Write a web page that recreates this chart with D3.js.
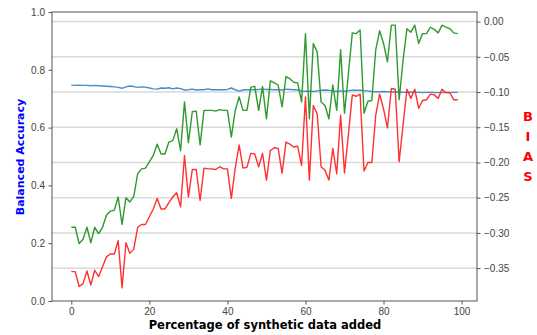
<!DOCTYPE html>
<html>
<head>
<meta charset="utf-8">
<script src="https://cdn.jsdelivr.net/npm/d3@7"></script>
<style>
  body { margin: 0; background: #fff; }
  svg { font-family: "DejaVu Sans", sans-serif; }
</style>
</head>
<body>
<svg id="chart" width="537" height="335"></svg>
<script>
// x: percentage of synthetic data added (0..99)
var pct = d3.range(0, 100);

// balanced accuracy (left axis)
var accuracy = [0.747,0.746,0.747,0.746,0.746,0.745,0.746,0.745,0.744,0.743,
  0.742,0.741,0.739,0.736,0.741,0.744,0.742,0.739,0.741,0.740,
  0.737,0.734,0.733,0.737,0.736,0.738,0.734,0.737,0.735,0.730,
  0.731,0.733,0.730,0.731,0.731,0.734,0.731,0.731,0.731,0.731,
  0.732,0.737,0.731,0.726,0.730,0.731,0.731,0.731,0.732,0.733,
  0.732,0.732,0.731,0.731,0.730,0.733,0.732,0.731,0.730,0.727,
  0.726,0.726,0.725,0.727,0.729,0.730,0.729,0.727,0.726,0.727,
  0.726,0.728,0.729,0.729,0.729,0.728,0.727,0.725,0.724,0.724,
  0.725,0.724,0.723,0.723,0.724,0.722,0.722,0.723,0.722,0.722,
  0.721,0.722,0.722,0.721,0.721,0.721,0.722,0.722,0.722,0.722];

// bias series (right axis)
var biasGreen = [-0.292,-0.292,-0.315,-0.309,-0.292,-0.314,-0.292,-0.301,-0.292,-0.275,
  -0.269,-0.268,-0.249,-0.288,-0.250,-0.256,-0.248,-0.216,-0.209,-0.208,
  -0.199,-0.190,-0.174,-0.188,-0.188,-0.171,-0.169,-0.152,-0.183,-0.114,
  -0.172,-0.128,-0.127,-0.175,-0.126,-0.126,-0.126,-0.127,-0.125,-0.126,
  -0.126,-0.164,-0.126,-0.107,-0.126,-0.126,-0.093,-0.092,-0.126,-0.092,
  -0.138,-0.084,-0.087,-0.090,-0.121,-0.078,-0.081,-0.086,-0.087,-0.114,
  -0.017,-0.138,-0.031,-0.043,-0.114,-0.119,-0.138,-0.090,-0.126,-0.040,
  -0.130,-0.074,-0.016,-0.017,-0.012,-0.130,-0.113,-0.112,-0.040,-0.013,
  -0.031,-0.057,-0.005,-0.005,-0.111,-0.055,-0.010,-0.015,-0.005,-0.031,
  -0.017,-0.017,-0.008,-0.011,-0.016,-0.005,-0.008,-0.010,-0.016,-0.017];

var biasRed = [-0.355,-0.355,-0.376,-0.372,-0.354,-0.374,-0.353,-0.362,-0.348,-0.334,
  -0.330,-0.330,-0.311,-0.378,-0.314,-0.329,-0.323,-0.292,-0.288,-0.288,
  -0.277,-0.266,-0.251,-0.266,-0.266,-0.257,-0.249,-0.243,-0.263,-0.190,
  -0.249,-0.210,-0.210,-0.254,-0.208,-0.209,-0.209,-0.210,-0.206,-0.209,
  -0.209,-0.251,-0.208,-0.175,-0.208,-0.207,-0.187,-0.188,-0.206,-0.187,
  -0.225,-0.183,-0.179,-0.180,-0.215,-0.171,-0.174,-0.178,-0.177,-0.204,
  -0.107,-0.225,-0.119,-0.131,-0.206,-0.211,-0.225,-0.180,-0.216,-0.133,
  -0.215,-0.160,-0.104,-0.106,-0.103,-0.212,-0.200,-0.200,-0.133,-0.103,
  -0.124,-0.151,-0.095,-0.096,-0.199,-0.147,-0.096,-0.109,-0.096,-0.123,
  -0.112,-0.111,-0.103,-0.104,-0.109,-0.096,-0.101,-0.101,-0.111,-0.111];

var accTicks = [0, 0.2, 0.4, 0.6, 0.8, 1.0];
var biasTicks = [0, -0.05, -0.10, -0.15, -0.20, -0.25, -0.30, -0.35];
var xTicks = [0, 20, 40, 60, 80, 100];

var svg = d3.select("#chart");
var plotL = 52, plotR = 477, plotT = 12, plotB = 301;

// matplotlib-like 5% margins
var xPad = (d3.max(pct) - d3.min(pct)) * 0.05;
var x = d3.scaleLinear()
  .domain([d3.min(pct) - xPad, d3.max(pct) + xPad])
  .range([plotL, plotR]);

var yL = d3.scaleLinear().domain([0, 1]).range([plotB, plotT]);

var allBias = biasGreen.concat(biasRed);
var bExt = d3.extent(allBias), bPad = (bExt[1] - bExt[0]) * 0.05;
var yR = d3.scaleLinear().domain([bExt[0] - bPad, bExt[1] + bPad]).range([plotB, plotT]);

// grid lines (from the bias axis)
svg.append("g").selectAll("line")
  .data(biasTicks)
  .enter().append("line")
    .attr("x1", plotL).attr("x2", plotR)
    .attr("y1", function(d) { return yR(d); })
    .attr("y2", function(d) { return yR(d); })
    .attr("stroke", "#d9d9d9")
    .attr("stroke-width", 1.5);

function drawLine(vals, scale, color) {
  var line = d3.line()
    .x(function(d, i) { return x(pct[i]); })
    .y(function(d) { return scale(d); });
  svg.append("path")
    .datum(vals)
    .attr("d", line)
    .attr("fill", "none")
    .attr("stroke", color)
    .attr("stroke-width", 1.4)
    .attr("stroke-linejoin", "round");
}

drawLine(accuracy, yL, "#4a8cc6");
drawLine(biasGreen, yR, "#2e9a2e");
drawLine(biasRed, yR, "#ff3030");

// axes
var axisColor = "#555";
function styleAxis(g) {
  g.select(".domain").remove();
  g.selectAll(".tick line").attr("stroke", axisColor).attr("stroke-width", 1);
  g.selectAll(".tick text").attr("fill", "#444").style("font-size", "10px");
}

svg.append("g")
  .attr("transform", "translate(0," + plotB + ")")
  .call(d3.axisBottom(x).tickValues(xTicks).tickSize(3.5).tickPadding(3.5).tickFormat(d3.format("d")))
  .call(styleAxis);

svg.append("g")
  .attr("transform", "translate(" + plotL + ",0)")
  .call(d3.axisLeft(yL).tickValues(accTicks).tickSize(3.5).tickPadding(3.5).tickFormat(d3.format(".1f")))
  .call(styleAxis);

svg.append("g")
  .attr("transform", "translate(" + plotR + ",0)")
  .call(d3.axisRight(yR).tickValues(biasTicks).tickSize(3.5).tickPadding(3.5).tickFormat(d3.format(".2f")))
  .call(styleAxis);

// frame
svg.append("rect")
  .attr("x", plotL).attr("y", plotT)
  .attr("width", plotR - plotL).attr("height", plotB - plotT)
  .attr("fill", "none")
  .attr("stroke", axisColor)
  .attr("stroke-width", 1);

// labels
svg.append("text")
  .attr("x", 265).attr("y", 329)
  .attr("text-anchor", "middle")
  .style("font-size", "11.5px").style("font-weight", "bold")
  .attr("fill", "#000")
  .text("Percentage of synthetic data added");

svg.append("text")
  .attr("transform", "translate(24,157) rotate(-90)")
  .attr("text-anchor", "middle")
  .style("font-size", "11px").style("font-weight", "bold")
  .attr("fill", "#0000ff")
  .text("Balanced Accuracy");

svg.append("text")
  .attr("text-anchor", "middle")
  .style("font-size", "13px").style("font-weight", "bold")
  .attr("fill", "#ff0000")
  .selectAll("tspan")
  .data(["B", "I", "A", "S"])
  .enter().append("tspan")
    .attr("x", 528)
    .attr("y", function(d, i) { return 121 + i * 20; })
    .text(function(d) { return d; });
</script>
</body>
</html>
